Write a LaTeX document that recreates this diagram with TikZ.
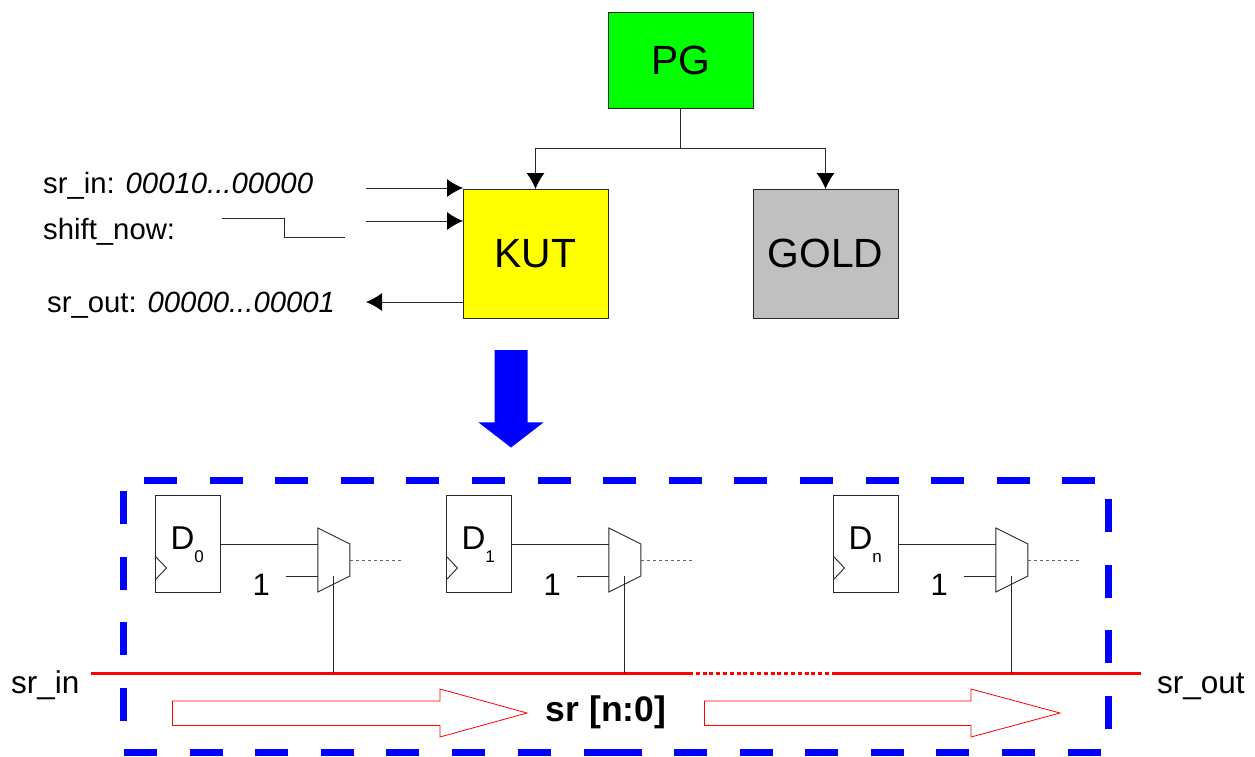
\documentclass[tikz,border=0pt]{standalone}
\usepackage{fontspec}
\setmainfont{Liberation Sans}
\usetikzlibrary{arrows.meta,calc}
\definecolor{pgreen}{RGB}{0,255,0}
\definecolor{pyellow}{RGB}{255,255,0}
\definecolor{pgrey}{RGB}{192,192,192}
\definecolor{pblue}{RGB}{0,0,255}
\definecolor{pred}{RGB}{255,0,0}
\definecolor{pline}{RGB}{40,40,40}
\tikzset{
  x=1pt,y=-1pt,
  box/.style={draw=pline,line width=1pt,inner sep=0,outer sep=0,anchor=north west},
  big/.style={font=\fontsize{40.8}{42}\selectfont},
  lab/.style={font=\fontsize{29.3}{31}\selectfont,inner sep=0,anchor=base west},
  endlab/.style={font=\fontsize{31.5}{33}\selectfont,inner sep=0,anchor=base west},
  wire/.style={draw=pline,line width=1pt},
  arr/.style={wire,-{Latex[length=16pt,width=18pt,color=black]}},
  ff/.style={draw=pline,line width=.9pt,inner sep=0,outer sep=0,anchor=north west,minimum width=65pt,minimum height=97pt},
  dl/.style={font=\fontsize{33}{35}\selectfont,inner sep=0,anchor=base},
  ds/.style={font=\fontsize{17}{18}\selectfont,inner sep=0,anchor=base},
  thin wire/.style={draw=pline,line width=.9pt},
  dots/.style={draw=black!60,line width=.9pt,dash pattern=on 3pt off 3pt},
  blue dash/.style={draw=pblue,line width=7pt,dash pattern=on 33pt off 32.6pt},
  blue solid/.style={draw=pblue,line width=7pt},
  redline/.style={draw=pred,line width=3pt},
  redarrow/.style={draw=pred,line width=.8pt,fill=white},
}
\begin{document}
\begin{tikzpicture}
\useasboundingbox (0,0) rectangle (1255,756);
% top blocks
\node[box,fill=pgreen,minimum width=145pt,minimum height=96pt,big] (pg) at (608,12) {PG};
\node[box,fill=pyellow,minimum width=145pt,minimum height=129pt,big] (kut) at (463,189) {KUT};
\node[box,fill=pgrey,minimum width=145pt,minimum height=129pt,big] (gold) at (753,189) {GOLD};
\coordinate (split) at (680.5,148);
\draw[wire] (pg.south) -- (split);
\draw[arr] (split) -| (kut.north);
\draw[arr] (split) -| (gold.north);
% signals
\node[lab] (srin) at (43,193.5) {sr\_in: \textit{00010...00000}};
\node[lab] (shift) at (43,239.5) {shift\_now:};
\node[lab] (srout) at (47,312) {sr\_out: \textit{00000...00001}};
\coordinate (a1) at (366,188);
\coordinate (a2) at (366,221);
\coordinate (a1e) at (463,188);
\coordinate (a2e) at (463,221);
\coordinate (a3) at (366,302);
\coordinate (a3s) at (463,302);
\draw[arr] (a1) -- (a1e);
\draw[arr] (a2) -- (a2e);
\draw[arr] (a3s) -- (a3);
\coordinate (w0) at (222,218);
\coordinate (w1) at (284,218);
\coordinate (w2) at (284,237);
\coordinate (w3) at (345,237);
\draw[wire] (w0) -- (w1) -- (w2) -- (w3);
% big blue arrow
\fill[pblue] (494.7,350) -- (527.7,350) -- (527.7,422.3) -- (543.7,422.3) -- (511,447.5) -- (478.3,422.3) -- (494.7,422.3) -- cycle;
% dashed frame
\coordinate (tl) at (144,480);
\coordinate (tr) at (1096,480);
\coordinate (bl) at (124,752.7);
\coordinate (bm1) at (552,752.7);
\coordinate (bm2) at (583.5,752.7);
\coordinate (bm3) at (641.5,752.7);
\coordinate (bm4) at (674,752.7);
\coordinate (br) at (1101,752.7);
\coordinate (ll) at (123.5,721);
\coordinate (lu) at (123.5,490);
\coordinate (rl) at (1108.5,729);
\coordinate (ru) at (1108.5,498);
\draw[blue dash] (tl) -- (tr);
\draw[blue dash] (bl) -- (bm1);
\draw[blue solid] (bm2) -- (bm3);
\draw[blue dash] (bm4) -- (br);
\draw[blue dash] (ll) -- (lu);
\draw[blue dash] (rl) -- (ru);
% red bus
\coordinate (b0) at (91,673);
\coordinate (b1) at (689,673);
\coordinate (b2) at (834,673);
\coordinate (b3) at (1141,673);
\draw[redline] (b0) -- (b1);
\draw[redline,dash pattern=on 4pt off 2.8pt] (b1) -- (b2);
\draw[redline] (b2) -- (b3);
\node[endlab] (lin) at (11,693) {sr\_in};
\node[endlab] (lout) at (1157,693) {sr\_out};
% stages
\foreach \nm/\fx/\sub in {0/155.5/0,1/446.5/1,2/833.5/n}{
  \pgfmathsetmacro{\mx}{\fx+162.3}
  \node[ff] (ff\nm) at (\fx,495.5) {};
  \node[dl] (dt\nm) at ($(\fx,549.5)+(27,0)$) {D};
  \node[ds] (sb\nm) at ($(\fx,562)+(43.5,0)$) {\sub};
  \draw[thin wire] ($(\fx,556.5)$) -- ++(11,11.5) -- ++(-11,11.5);
  \coordinate (mx\nm) at (\mx,528);
  \draw[thin wire,fill=white] (mx\nm) -- ++(32,16) -- ++(0,32) -- ++(-32,16) -- cycle;
  \draw[thin wire] (ff\nm.north east |- 0,544) -- ($(mx\nm)+(0,16)$);
  \coordinate (one\nm) at ($(mx\nm)+(-32,48)$);
  \draw[thin wire] (one\nm) -- ($(mx\nm)+(0,48)$);
  \node[font=\fontsize{31}{33}\selectfont,inner sep=0,anchor=base] (oneL\nm) at ($(mx\nm)+(-56.5,67)$) {1};
  \coordinate (sel\nm) at ($(mx\nm)+(16,48)$);
  \coordinate (bus\nm) at ($(mx\nm)+(16,145)$);
  \draw[thin wire] (sel\nm) -- (bus\nm);
  \coordinate (o\nm) at ($(mx\nm)+(32,32)$);
  \draw[dots] (o\nm) -- ++(51,0);
}
% hollow arrows
\draw[redarrow] (172.5,701) -- (440,701) -- (440,689) -- (527,713) -- (440,737) -- (440,725.5) -- (172.5,725.5) -- cycle;
\draw[redarrow] (704.5,701) -- (971,701) -- (971,689) -- (1060,713) -- (971,737) -- (971,725.5) -- (704.5,725.5) -- cycle;
\node[font=\bfseries\fontsize{35.5}{37}\selectfont,inner sep=0,anchor=base] (sr) at (606,721.5) {sr [n:0]};
\end{tikzpicture}
\end{document}
